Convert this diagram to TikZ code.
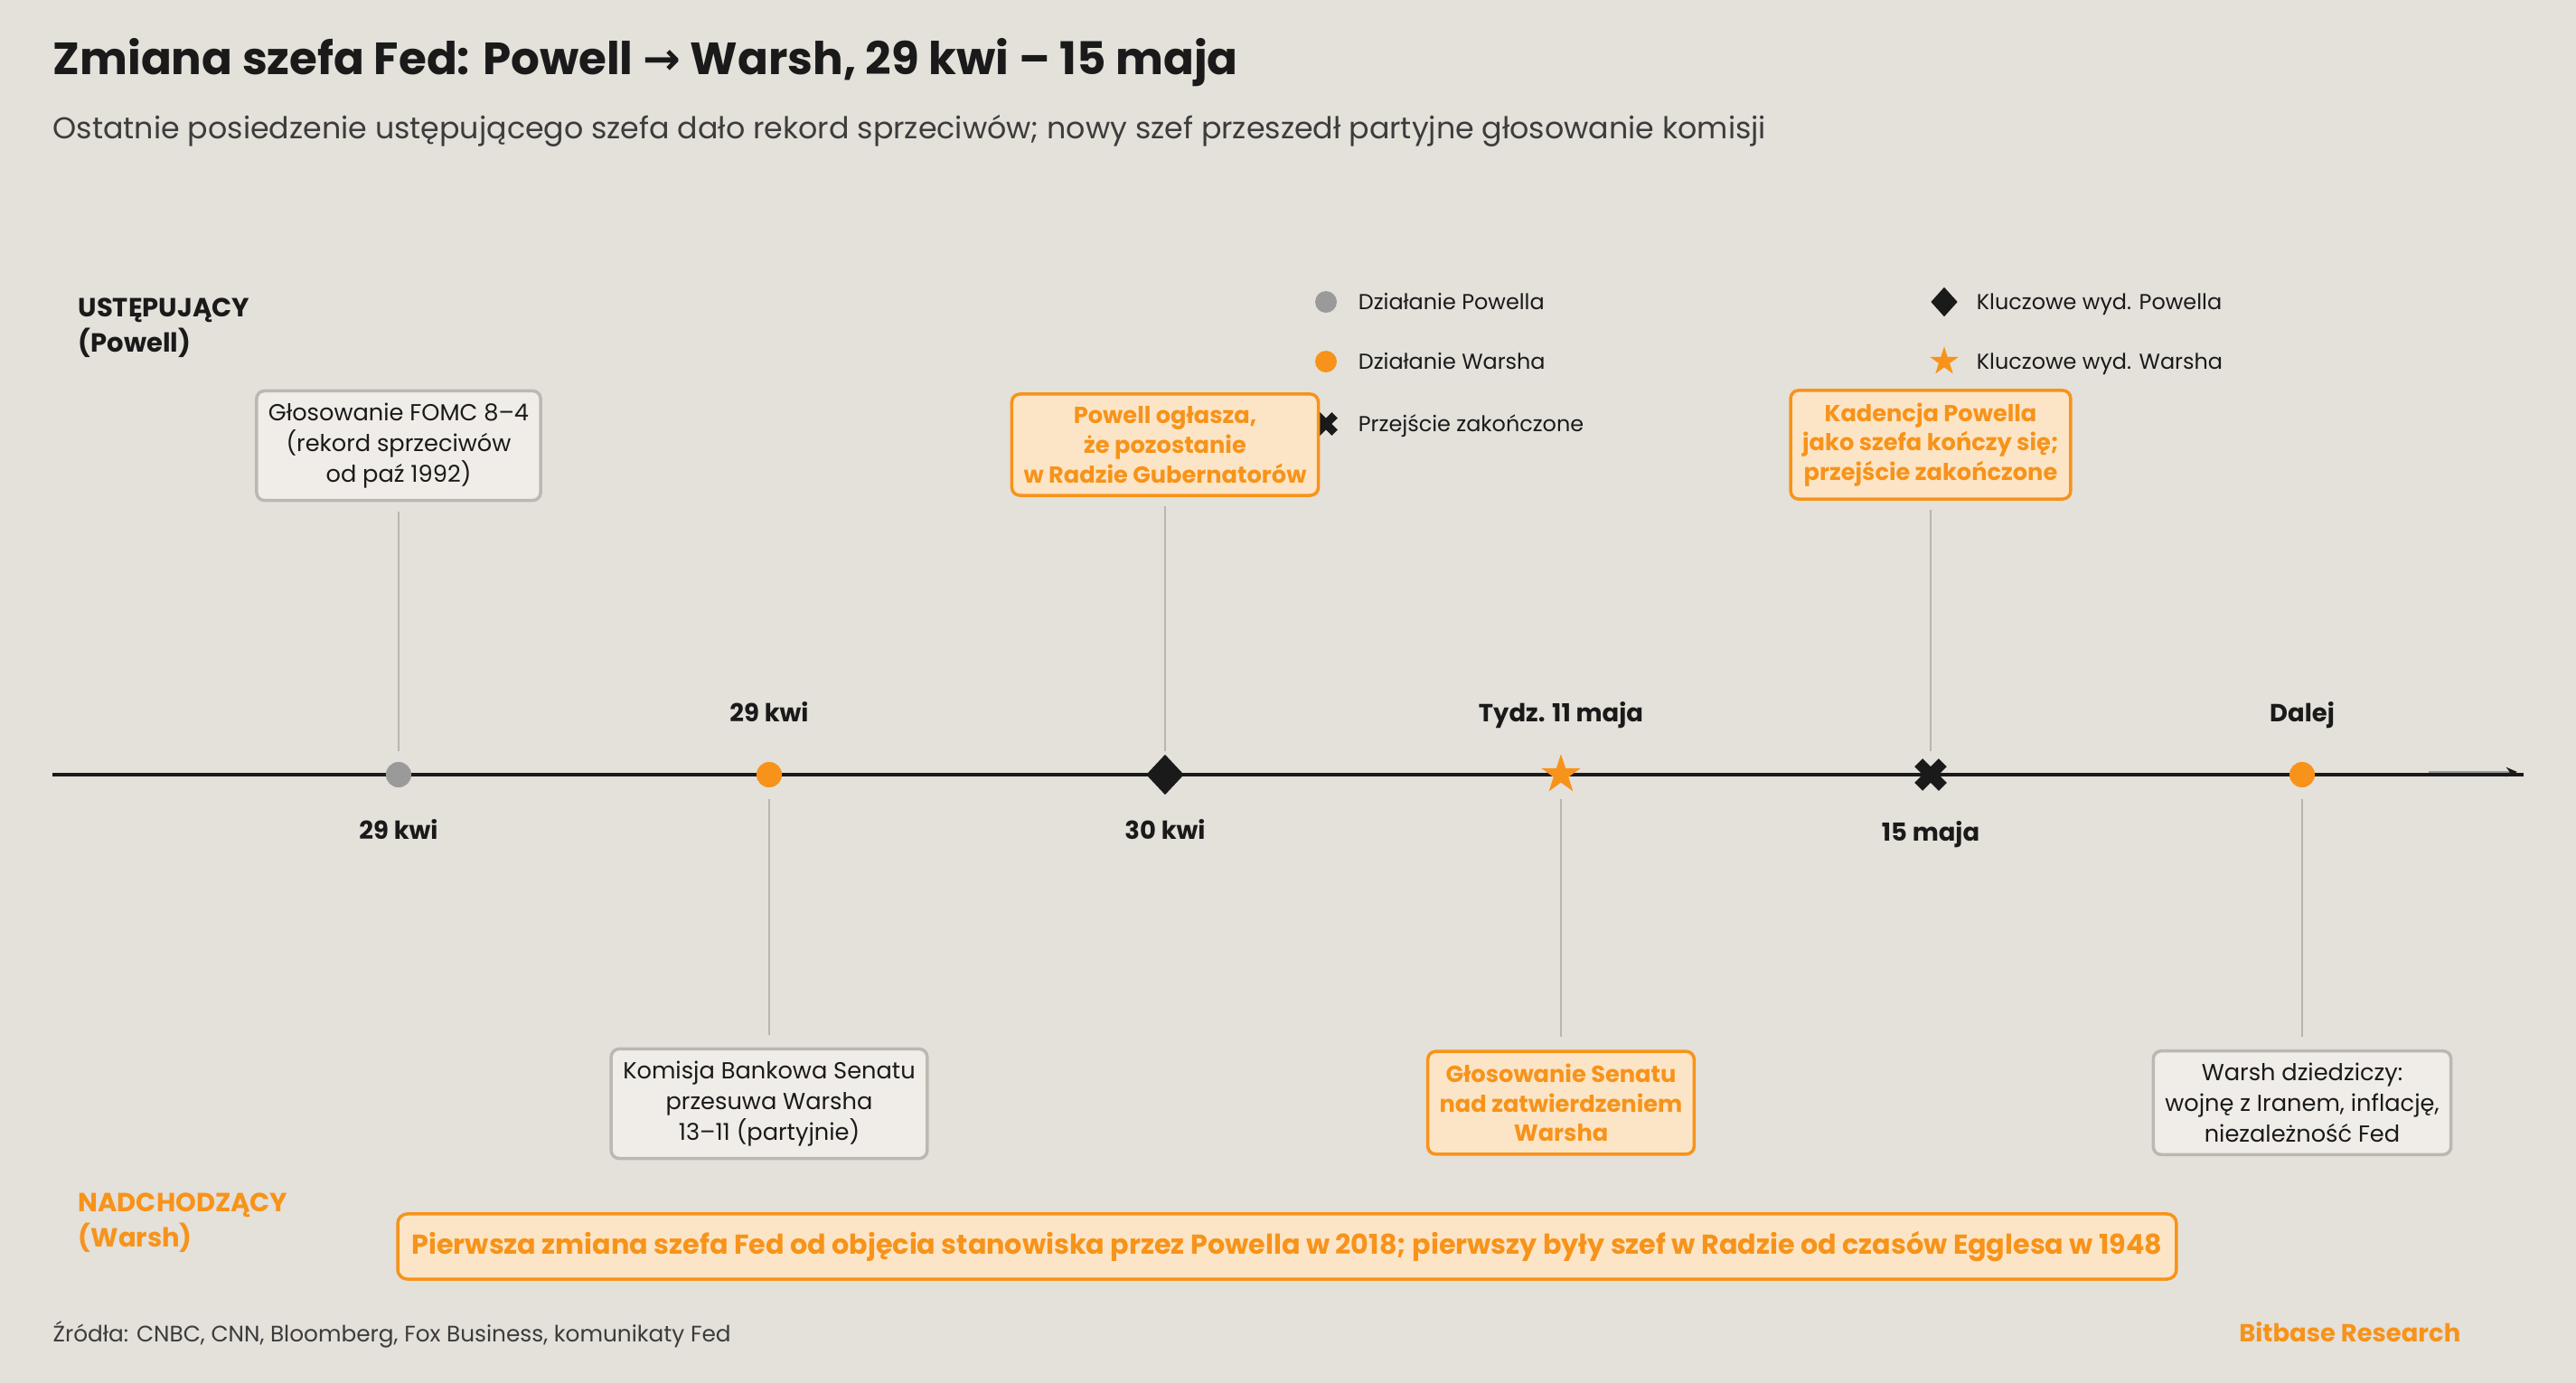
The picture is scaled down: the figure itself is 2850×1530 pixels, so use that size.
\documentclass[tikz,border=0pt]{standalone}
\usepackage{fontspec}
\setmainfont{Poppins}
\newfontfamily\arrowfont{DejaVu Sans}
\usetikzlibrary{positioning,shapes.geometric,shapes.misc,arrows.meta}
\definecolor{bgc}{HTML}{E4E0DA}
\definecolor{btc}{HTML}{F7931A}
\definecolor{btcfill}{HTML}{FCE5C6}
\definecolor{boxfill}{HTML}{F0EDE8}
\definecolor{boxline}{HTML}{BCB8B1}
\definecolor{inkdark}{HTML}{1A1A1A}
\definecolor{dotgray}{HTML}{9A9A9A}
\definecolor{stemgray}{HTML}{B8B4AE}
\definecolor{subgray}{HTML}{3C3C3C}

\begin{document}
\begin{tikzpicture}[x=0.01cm,y=-0.01cm,
  plainbox/.style={draw=boxline,fill=boxfill,line width=1pt,rounded corners=2.5pt,align=center,inner xsep=3.7pt,inner ysep=3.9pt,text=inkdark,font=\fontsize{7.3}{9.6}\selectfont},
  keybox/.style={plainbox,draw=btc,fill=btcfill,text=btc,font=\fontsize{7.3}{9.3}\selectfont\bfseries},
  stem/.style={draw=stemgray,line width=0.6pt},
  datelbl/.style={text=inkdark,font=\fontsize{7.8}{10}\selectfont\bfseries,inner sep=0pt,text height=5.8pt,text depth=0pt},
  legtxt/.style={text=inkdark,font=\fontsize{6.8}{8}\selectfont,inner sep=0pt,text height=4.75pt,text depth=0pt},
  dot/.style={circle,inner sep=0pt,minimum size=8pt},
  keyp/.style={diamond,fill=inkdark,inner sep=0pt,minimum width=12pt,minimum height=12.8pt},
  keyw/.style={star,star points=5,star point ratio=2.6,fill=btc,inner sep=0pt,minimum size=12.9pt},
  done/.style={cross out,draw=inkdark,line width=3.6pt,inner sep=0pt,outer sep=0pt,minimum size=7.6pt},
  side/.style={align=left,anchor=north west,inner sep=0pt,font=\fontsize{8.25}{11.1}\selectfont\bfseries}
]
\fill[bgc] (0,0) rectangle (2850,1530);
\useasboundingbox (0,0) rectangle (2850,1530);

\node[anchor=base west,inner sep=0pt,text=inkdark,font=\fontsize{14.2}{16}\selectfont\bfseries] (title) at (58,83)
  {Zmiana szefa Fed: Powell {\arrowfont\bfseries →} Warsh, 29 kwi – 15 maja};
\node[anchor=base west,inner sep=0pt,text=subgray,font=\fontsize{9.46}{11}\selectfont] (sub) at (58,153)
  {Ostatnie posiedzenie ustępującego szefa dało rekord sprzeciwów; nowy szef przeszedł partyjne głosowanie komisji};

\node[side,text=inkdark] (outgoing) at (86,329) {USTĘPUJĄCY\\(Powell)};
\node[side,text=btc] (incoming) at (86,1319) {NADCHODZĄCY\\(Warsh)};

\node[dot,fill=dotgray,minimum size=6.8pt] (l1) at (1467,334) {};
\node[dot,fill=btc,minimum size=6.8pt] (l2) at (1467,400) {};
\node[done,minimum size=5.5pt,line width=2.6pt] (l3) at (1467,469) {};
\node[keyp,minimum width=8.5pt,minimum height=9.4pt] (l4) at (2151,334) {};
\node[keyw,minimum size=9.4pt] (l5) at (2151,400) {};
\node[legtxt,right=10pt of l1.center] (t1) {Działanie Powella};
\node[legtxt,right=10pt of l2.center] (t2) {Działanie Warsha};
\node[legtxt,right=10pt of l3.center] (t3) {Przejście zakończone};
\node[legtxt,right=10pt of l4.center] (t4) {Kluczowe wyd. Powella};
\node[legtxt,right=10pt of l5.center] (t5) {Kluczowe wyd. Warsha};

\coordinate (ax0) at (58,857);
\coordinate (ax1) at (2792,857);
\draw[inkdark,line width=1.4pt] (ax0) -- (ax1);
\draw[dotgray,line width=0.5pt,-{Stealth[length=3.5pt,width=3pt,color=inkdark]}] (2687,854) -- (2785,854);

\node[plainbox] (b1) at (441,493) {Głosowanie FOMC 8–4\\(rekord sprzeciwów\\od paź 1992)};
\node[plainbox] (b2) at (851,1221) {Komisja Bankowa Senatu\\przesuwa Warsha\\13–11 (partyjnie)};
\node[keybox] (b3) at (1289,492) {Powell ogłasza,\\że pozostanie\\w Radzie Gubernatorów};
\node[keybox] (b4) at (1727,1220) {Głosowanie Senatu\\nad zatwierdzeniem\\Warsha};
\node[keybox] (b5) at (2136,492) {Kadencja Powella\\jako szefa kończy się;\\przejście zakończone};
\node[plainbox] (b6) at (2547,1220) {Warsh dziedziczy:\\wojnę z Iranem, inflację,\\niezależność Fed};

\node[dot,fill=dotgray] (m1) at (441,857) {};
\node[dot,fill=btc] (m2) at (851,857) {};
\node[keyp] (m3) at (1289,857) {};
\node[keyw] (m4) at (1727,857) {};
\node[done] (m5) at (2136,857) {};
\node[dot,fill=btc] (m6) at (2547,857) {};

\draw[stem,shorten <=3pt,shorten >=7.4pt] (b1.south) -- (m1.center);
\draw[stem,shorten <=3pt,shorten >=7.4pt] (b3.south) -- (m3.center);
\draw[stem,shorten <=3pt,shorten >=7.4pt] (b5.south) -- (m5.center);
\draw[stem,shorten <=7.7pt,shorten >=4pt] (m2.center) -- (b2.north);
\draw[stem,shorten <=7.7pt,shorten >=4pt] (m4.center) -- (b4.north);
\draw[stem,shorten <=7.7pt,shorten >=4pt] (m6.center) -- (b6.north);

\node[datelbl] (d1) at ([yshift=-17.4pt]m1) {29 kwi};
\node[datelbl] (d2) at ([yshift=19.6pt]m2) {29 kwi};
\node[datelbl] (d3) at ([yshift=-17.4pt]m3) {30 kwi};
\node[datelbl] (d4) at ([yshift=19.6pt]m4) {Tydz. 11 maja};
\node[datelbl] (d5) at ([yshift=-17.9pt]m5) {15 maja};
\node[datelbl] (d6) at ([yshift=19.6pt]m6) {Dalej};

\node[keybox,font=\fontsize{8.6}{10}\selectfont\bfseries,minimum width=559.6pt,minimum height=20.5pt,rounded corners=3pt] (note) at (1424,1379)
  {Pierwsza zmiana szefa Fed od objęcia stanowiska przez Powella w 2018; pierwszy były szef w Radzie od czasów Egglesa w 1948};

\node[anchor=base west,inner sep=0pt,text=subgray,font=\fontsize{7.05}{8}\selectfont] (src) at (58,1484)
  {Źródła: CNBC, CNN, Bloomberg, Fox Business, komunikaty Fed};
\node[anchor=base east,inner sep=0pt,text=btc,font=\fontsize{7.8}{9}\selectfont\bfseries] (brand) at (2723,1484) {Bitbase Research};
\end{tikzpicture}
\end{document}
